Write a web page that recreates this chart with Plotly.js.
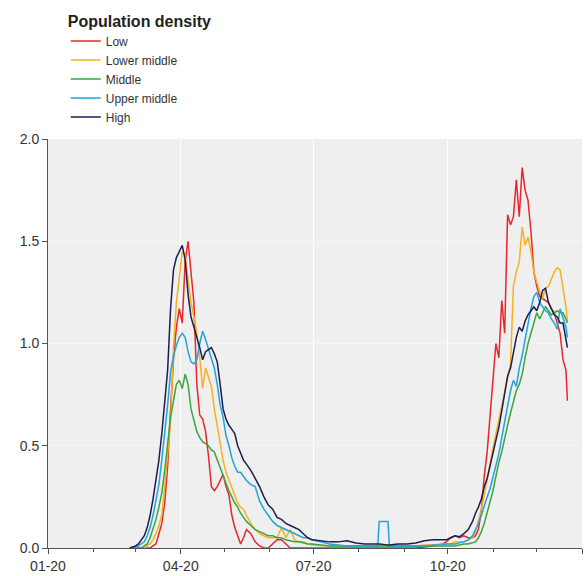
<!DOCTYPE html>
<html>
<head>
<meta charset="utf-8">
<script src="https://cdn.plot.ly/plotly-3.0.1.min.js"></script>
<style>html,body{margin:0;padding:0;background:#fff;}#chart{width:587px;height:576px;}</style>
</head>
<body>
<div id="chart"></div>
<script>
const dates = [
'2020-02-26','2020-02-28','2020-03-01','2020-03-03','2020-03-05','2020-03-07','2020-03-09','2020-03-11','2020-03-13','2020-03-15',
'2020-03-17','2020-03-19','2020-03-21','2020-03-23','2020-03-25','2020-03-27','2020-03-29','2020-03-31','2020-04-02','2020-04-04',
'2020-04-06','2020-04-08','2020-04-10','2020-04-12','2020-04-14','2020-04-16','2020-04-18','2020-04-20','2020-04-22','2020-04-24',
'2020-04-26','2020-04-28','2020-04-30','2020-05-02','2020-05-04','2020-05-06','2020-05-08','2020-05-10','2020-05-12','2020-05-14',
'2020-05-16',
'2020-05-19','2020-05-22','2020-05-25','2020-05-28','2020-05-31','2020-06-03','2020-06-06','2020-06-09','2020-06-12','2020-06-15',
'2020-06-18','2020-06-21','2020-06-24','2020-06-27','2020-06-30',
'2020-07-06','2020-07-12','2020-07-18','2020-07-24','2020-07-30','2020-08-05','2020-08-11','2020-08-14','2020-08-15','2020-08-21',
'2020-08-22','2020-08-28','2020-09-03','2020-09-09','2020-09-15','2020-09-21','2020-09-27',
'2020-09-30','2020-10-03','2020-10-06','2020-10-09','2020-10-12','2020-10-15','2020-10-18',
'2020-10-20','2020-10-22','2020-10-24','2020-10-26','2020-10-28','2020-10-30','2020-11-01','2020-11-03','2020-11-05','2020-11-07',
'2020-11-09','2020-11-11','2020-11-13','2020-11-15','2020-11-17','2020-11-19','2020-11-21','2020-11-23','2020-11-25','2020-11-27',
'2020-11-29','2020-12-01','2020-12-03','2020-12-05','2020-12-07','2020-12-09','2020-12-11','2020-12-13','2020-12-15','2020-12-17',
'2020-12-19','2020-12-21','2020-12-22'
];

const low = [
0,0,0,0,0,0,0,0,0.01,0.02,
0.07,0.12,0.22,0.4,0.68,0.92,1.08,1.17,1.1,1.4,
1.5,1.33,1.2,0.8,0.65,0.63,0.57,0.45,0.3,0.28,
0.3,0.33,0.36,0.3,0.26,0.16,0.1,0.06,0.02,0.05,
0.09,
0.07,0.03,0.01,0,0,0.02,0.04,0.04,0.02,0,
0,0,0,0,0,
0,0,0,0,0,0,0,0,0,0,
0,0,0,0,0.005,0.01,0.02,
0.03,0.05,0.06,0.05,0.06,0.05,0.05,
0.06,0.09,0.18,0.35,0.47,0.66,0.85,1.0,0.93,1.21,
1.05,1.63,1.58,1.62,1.8,1.62,1.86,1.75,1.7,1.55,
1.35,1.28,1.23,1.22,1.21,1.2,1.17,1.15,1.1,1.05,
0.92,0.87,0.72
];

const lowerMiddle = [
0,0,0,0,0,0,0.01,0.02,0.04,0.07,
0.11,0.16,0.3,0.46,0.62,0.98,1.2,1.32,1.45,1.43,
1.3,1.2,1.13,1.05,0.93,0.78,0.88,0.83,0.79,0.68,
0.59,0.5,0.43,0.37,0.33,0.3,0.25,0.22,0.2,0.19,
0.16,
0.12,0.09,0.07,0.06,0.05,0.05,0.05,0.1,0.05,0.09,
0.04,0.03,0.03,0.02,0.015,
0.012,0.01,0.01,0.01,0.01,0.01,0.01,0.01,0.01,0.01,
0.01,0.01,0.01,0.01,0.015,0.015,0.02,
0.02,0.02,0.03,0.03,0.03,0.04,0.05,
0.08,0.13,0.19,0.26,0.33,0.41,0.49,0.56,0.63,0.7,
0.77,0.84,0.9,1.28,1.35,1.4,1.57,1.48,1.52,1.45,
1.35,1.3,1.25,1.22,1.27,1.28,1.32,1.35,1.37,1.36,
1.27,1.18,1.11
];

const middle = [
0,0,0,0,0,0.01,0.02,0.05,0.09,0.14,
0.2,0.27,0.38,0.5,0.64,0.72,0.8,0.82,0.78,0.85,
0.8,0.68,0.62,0.57,0.54,0.52,0.51,0.5,0.48,0.47,
0.43,0.39,0.36,0.31,0.28,0.25,0.22,0.2,0.17,0.15,
0.13,
0.11,0.09,0.08,0.07,0.06,0.06,0.05,0.05,0.04,0.035,
0.03,0.03,0.025,0.02,0.02,
0.015,0.01,0.01,0.01,0.008,0.008,0.008,0.008,0.008,0.008,
0.008,0.008,0.008,0.008,0.01,0.01,0.01,
0.01,0.01,0.01,0.015,0.02,0.02,0.025,
0.03,0.05,0.08,0.12,0.17,0.22,0.28,0.35,0.42,0.47,
0.54,0.6,0.66,0.72,0.77,0.8,0.85,0.93,1.0,1.05,
1.1,1.15,1.12,1.15,1.18,1.16,1.14,1.15,1.16,1.15,
1.15,1.12,1.1
];

const upperMiddle = [
0,0,0,0.01,0.02,0.03,0.06,0.1,0.16,0.23,
0.31,0.43,0.56,0.7,0.86,0.94,0.99,1.03,1.05,1.03,
0.96,0.91,0.9,0.92,1.0,1.06,1.02,0.97,0.93,0.88,
0.8,0.7,0.64,0.55,0.5,0.44,0.4,0.37,0.37,0.35,
0.33,
0.31,0.3,0.23,0.19,0.16,0.13,0.11,0.1,0.09,0.08,
0.07,0.06,0.05,0.05,0.04,
0.03,0.02,0.015,0.01,0.01,0.01,0.01,0.01,0.13,0.13,
0.01,0.01,0.01,0.01,0.01,0.015,0.015,
0.02,0.02,0.02,0.025,0.03,0.04,0.06,
0.09,0.12,0.16,0.21,0.25,0.29,0.35,0.41,0.46,0.54,
0.62,0.69,0.77,0.82,0.79,0.88,0.94,1.02,1.1,1.17,
1.23,1.25,1.2,1.18,1.16,1.15,1.12,1.1,1.07,1.17,
1.12,1.08,1.03
];

const high = [
0,0.005,0.01,0.02,0.04,0.06,0.1,0.16,0.24,0.33,
0.43,0.56,0.7,0.87,1.17,1.36,1.42,1.45,1.48,1.41,
1.24,1.13,1.08,1.04,0.98,0.92,0.96,0.97,0.98,0.95,
0.91,0.8,0.68,0.63,0.6,0.58,0.56,0.5,0.46,0.43,
0.41,
0.38,0.34,0.3,0.25,0.21,0.19,0.15,0.14,0.12,0.11,
0.1,0.09,0.07,0.05,0.04,
0.035,0.03,0.03,0.035,0.025,0.02,0.02,0.02,0.02,0.015,
0.015,0.02,0.02,0.025,0.035,0.04,0.04,
0.04,0.05,0.06,0.055,0.07,0.09,0.13,
0.17,0.2,0.24,0.3,0.34,0.4,0.46,0.53,0.59,0.67,
0.75,0.84,0.88,0.95,1.03,1.08,1.06,1.11,1.14,1.16,
1.18,1.16,1.2,1.26,1.27,1.2,1.17,1.14,1.13,1.1,
1.1,1.03,0.98
];

const seriesNames = ['Low','Lower middle','Middle','Upper middle','High'];
const seriesValues = [low, lowerMiddle, middle, upperMiddle, high];
const seriesColors = ['#e8262b','#f5b21e','#3aa63c','#1ea5e0','#1b1f4d'];

const majorTicks = ['2020-01-01','2020-04-01','2020-07-01','2020-10-01','2021-01-01'];
const majorLabels = ['01-20','04-20','07-20','10-20',''];

const traces = seriesNames.map((n,i)=>({
  type:'scatter', mode:'lines', name:n, x:dates, y:seriesValues[i],
  line:{color:seriesColors[i], width:1.5}
}));

const font = {family:'"Liberation Sans", Arial, sans-serif', color:'#333', size:14};

const layout = {
  width:587, height:576,
  margin:{l:48, r:5, t:139, b:28, autoexpand:false},
  paper_bgcolor:'#ffffff', plot_bgcolor:'#efefef',
  font:font,
  showlegend:true,
  legend:{
    xref:'container', yref:'container',
    x:0.112, y:0.99, xanchor:'left', yanchor:'top',
    bgcolor:'rgba(0,0,0,0)',
    font:{family:font.family, size:12, color:'#333'},
    title:{text:'<b>Population density</b>', font:{family:font.family, size:16, color:'#222'}, side:'top'},
    traceorder:'normal'
  },
  xaxis:{
    type:'date', range:['2020-01-01','2021-01-01'],
    tickmode:'array', tickvals:majorTicks, ticktext:majorLabels,
    ticks:'outside', ticklen:5, tickcolor:'#555', tickwidth:1,
    showline:true, linecolor:'#555', linewidth:1,
    showgrid:true, gridcolor:'#ffffff', gridwidth:1,
    zeroline:false,
    tickfont:{family:font.family, size:14, color:'#333'},
    minor:{dtick:'M1', tick0:'2020-01-01', ticks:'outside', ticklen:3, tickcolor:'#555', showgrid:false}
  },
  yaxis:{
    range:[0,2], dtick:0.5, tick0:0, tickformat:'.1f',
    ticks:'outside', ticklen:5, tickcolor:'#555', tickwidth:1,
    showline:true, linecolor:'#555', linewidth:1,
    showgrid:true, gridcolor:'#f6f6f6', gridwidth:1,
    zeroline:false,
    tickfont:{family:font.family, size:14, color:'#333'}
  }
};

Plotly.newPlot('chart', traces, layout, {displayModeBar:false, staticPlot:true});
</script>
</body>
</html>
